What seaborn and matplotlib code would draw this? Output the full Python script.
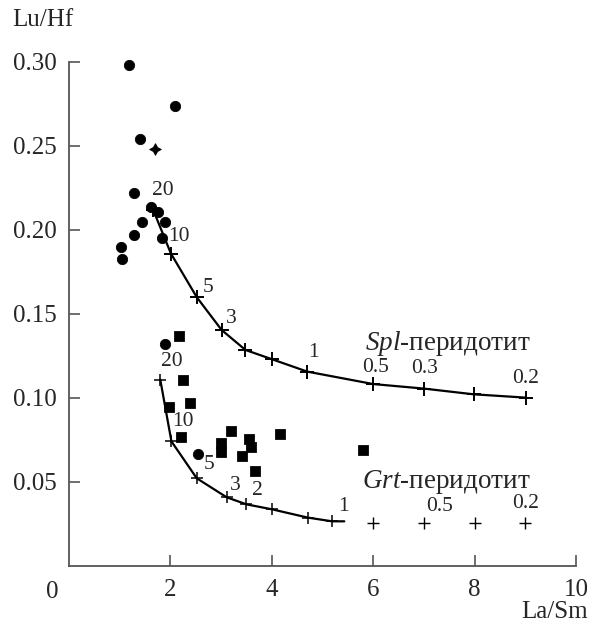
import matplotlib
matplotlib.use("Agg")
import matplotlib.pyplot as plt
import numpy as np
import pandas as pd
import seaborn as sns

### Data
# filled circles
circ_x = [1.18, 2.10, 1.41, 1.29, 1.61, 1.75, 1.43, 1.89, 1.29, 1.84, 1.02, 1.04, 1.89, 2.55]
circ_y = [0.298, 0.274, 0.254, 0.222, 0.2135, 0.211, 0.205, 0.205, 0.197, 0.195, 0.190, 0.183, 0.132, 0.0667]

# filled squares
sq_x = [2.16, 2.24, 1.98, 2.39, 2.21, 3.20, 2.99, 2.99, 3.56, 3.59, 3.41, 3.67, 4.17, 5.80]
sq_y = [0.137, 0.111, 0.0945, 0.0972, 0.0766, 0.0804, 0.073, 0.0679, 0.0756, 0.071, 0.0657, 0.0567, 0.0786, 0.069]

# four-pointed star
star_x = [1.70]
star_y = [0.248]

# Spl-peridotite melting curve
spl_x = [1.66, 2.01, 2.52, 3.01, 3.48, 4.01, 4.70, 6.00, 7.00, 7.98, 9.02]
spl_y = [0.212, 0.186, 0.160, 0.1405, 0.1286, 0.123, 0.1157, 0.1083, 0.1056, 0.1022, 0.1002]
spl_labels = ["20", "10", "5", "3", "", "", "1", "0.5", "0.3", "", "0.2"]

# Grt-peridotite melting curve (+ detached points)
grt_x = [1.80, 2.02, 2.52, 3.11, 3.50, 4.01, 4.71, 5.19, 5.43]
grt_y = [0.111, 0.0742, 0.0522, 0.0409, 0.0367, 0.0337, 0.0288, 0.0266, 0.0266]
grt_labels = ["20", "10", "5", "3", "2", "", "", "1", None]
grt_far_x = [6.0, 7.0, 8.0, 9.0]
grt_far_y = [0.0258, 0.0258, 0.0258, 0.0258]
grt_far_labels = ["", "0.5", "", "0.2"]

# label offsets (pixels) relative to the marker
spl_off = [(10, 19), (8, 17), (11, 10), (10, 11), (0, 0), (0, 0), (6, 19), (2, 17), (1, 20), (0, 0), (-1, 19)]
grt_off = [(12, 18), (12, 20), (12, 14), (9, 12), (11, 14), (0, 0), (0, 0), (11, 15), (0, 0)]
grt_far_off = [(0, 0), (16, 16), (0, 0), (0, 19)]

sns.set_style("ticks")
plt.rcParams["font.family"] = ["Liberation Serif", "DejaVu Serif"]
plt.rcParams["mathtext.fontset"] = "custom"
plt.rcParams["mathtext.it"] = "Liberation Serif:italic"
plt.rcParams["mathtext.rm"] = "Liberation Serif"

fig = plt.figure(figsize=(5.89, 6.28), dpi=100)
ax = fig.add_axes([69 / 589, 62 / 628, 507 / 589, 504 / 628])

ink = "#000000"
axc = "#555555"

# curves
sns.lineplot(x=spl_x, y=spl_y, sort=False, color=ink, lw=1.6, ax=ax, estimator=None)
sns.lineplot(x=grt_x, y=grt_y, sort=False, color=ink, lw=1.6, ax=ax, estimator=None)
ax.plot(spl_x, spl_y, ls="none", marker="+", ms=10, mew=1.4, color=ink)
ax.plot(grt_x[:-1], grt_y[:-1], ls="none", marker="+", ms=9, mew=1.1, color=ink)
ax.plot(grt_far_x, grt_far_y, ls="none", marker="+", ms=8, mew=1.0, color=ink)

# samples
kw = dict(color=ink, edgecolor=ink, ax=ax, zorder=3, clip_on=False)
sns.scatterplot(x=circ_x, y=circ_y, marker="o", s=55, **kw)
sns.scatterplot(x=sq_x, y=sq_y, marker="s", s=50, **kw)
sns.scatterplot(x=star_x, y=star_y, marker=(4, 1, 0), s=70, linewidth=0.6, **kw)

lab_fs = 15.5
groups = [(spl_x, spl_y, spl_labels, spl_off),
          (grt_x, grt_y, grt_labels, grt_off),
          (grt_far_x, grt_far_y, grt_far_labels, grt_far_off)]
for xs, ys, ts, offs in groups:
    for x, y, t, o in zip(xs, ys, ts, offs):
        if t:
            ax.annotate(t, (x, y), xytext=o, textcoords="offset pixels",
                        ha="center", va="center", fontsize=lab_fs)

ax.text(7.48, 0.1327, r"$\it{Spl}$-перидотит", ha="center", va="center", fontsize=19.5)
ax.text(7.45, 0.0500, r"$\it{Grt}$-перидотит", ha="center", va="center", fontsize=19.5)

# axes
ax.set_xlim(0, 10)
ax.set_ylim(0, 0.30)
ax.set_xticks([2, 4, 6, 8, 10])
ax.set_yticks([0.05, 0.10, 0.15, 0.20, 0.25, 0.30])
ax.set_yticklabels(["0.05", "0.10", "0.15", "0.20", "0.25", "0.30"])
ax.tick_params(direction="in", length=8, width=1.2, color=axc, labelsize=18, pad=9)
for s in ["top", "right"]:
    ax.spines[s].set_visible(False)
for s in ["left", "bottom"]:
    ax.spines[s].set_color(axc)
    ax.spines[s].set_linewidth(1.3)

ax.annotate("0", (0, 0), xytext=(-17, -26), textcoords="offset pixels", ha="center", va="center", fontsize=18)
fig.text(12 / 589, 1 - 20 / 628, "Lu/Hf", ha="left", va="center", fontsize=18)
fig.text(588 / 589, 1 - 612 / 628, "La/Sm", ha="right", va="center", fontsize=18)

fig.savefig("out.png", dpi=100)
